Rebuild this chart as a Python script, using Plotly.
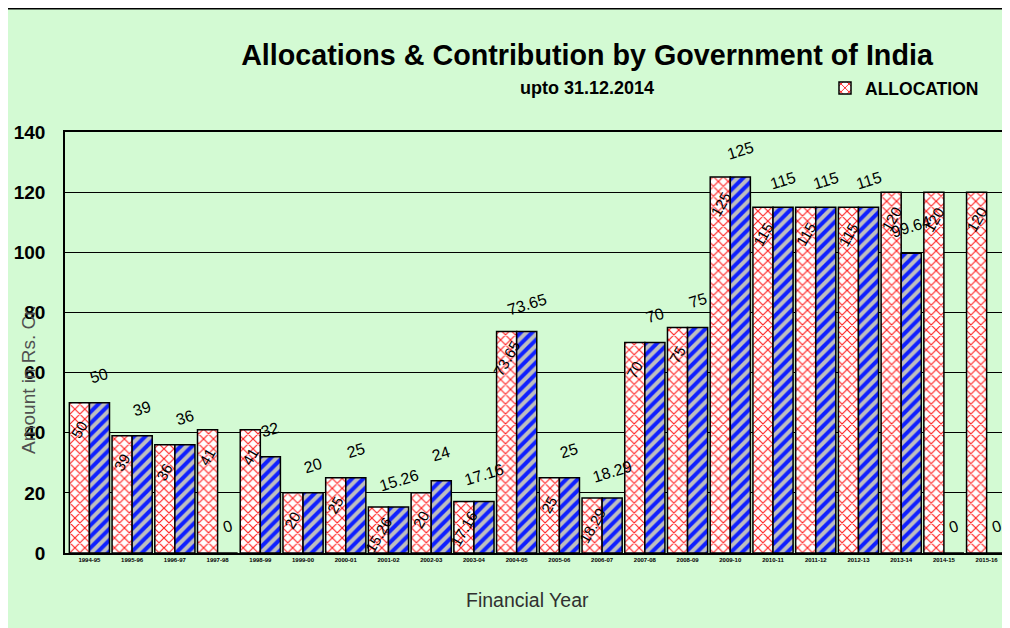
import plotly.graph_objects as go

categories = ["1994-95", "1995-96", "1996-97", "1997-98", "1998-99", "1999-00",
              "2000-01", "2001-02", "2002-03", "2003-04", "2004-05", "2005-06",
              "2006-07", "2007-08", "2008-09", "2009-10", "2010-11", "2011-12",
              "2012-13", "2013-14", "2014-15", "2015-16"]
allocation = [50, 39, 36, 41, 41, 20, 25, 15.26, 20, 17.16, 73.65, 25, 18.29,
              70, 75, 125, 115, 115, 115, 120, 120, 120]
contribution = [50, 39, 36, 0, 32, 20, 25, 15.26, 24, 17.16, 73.65, 25, 18.29,
                70, 75, 125, 115, 115, 115, 99.64, 0, 0]
y_ticks = [0, 20, 40, 60, 80, 100, 120, 140]

FONT = "Liberation Sans, Arial, sans-serif"
GREEN = "#D3FAD3"

# page has an 8px body margin; screen coords -> figure coords
OFF = 8
W, H = 1010, 628
L, R, T, B = 57, 10, 124, 83
pw, ph = W - L - R, H - T - B


def px(sx):
    return (sx - OFF - L) / pw


def py(sy):
    return (H - B - (sy - OFF)) / ph


fig = go.Figure()
fig.add_trace(go.Bar(
    x=categories, y=allocation, name="ALLOCATION",
    marker=dict(color="white", line=dict(color="black", width=1.5),
                pattern=dict(shape="x", fgcolor="#FF2020", bgcolor="white",
                             size=7, solidity=0.3, fgopacity=1)),
))
fig.add_trace(go.Bar(
    x=categories, y=contribution, name="CONTRIBUTION", showlegend=False,
    marker=dict(color="#C0C0C0", line=dict(color="black", width=1.5),
                pattern=dict(shape="/", fgcolor="#1020FF", bgcolor="#BEBEBE",
                             size=8, solidity=0.5, fgopacity=1)),
))

cat_w = pw / len(categories)
half = cat_w * (1 - 0.06) / 4
annotations = []
for c, a, k in zip(categories, allocation, contribution):
    annotations.append(dict(x=c, y=a, xref="x", yref="y", text=f"{a:g}",
                            showarrow=False, textangle=-60, xshift=-half,
                            yshift=-27, font=dict(family=FONT, size=15, color="black")))
    annotations.append(dict(x=c, y=k, xref="x", yref="y", text=f"{k:g}",
                            showarrow=False, textangle=-17, xshift=half,
                            yshift=27, font=dict(family=FONT, size=16, color="black")))

annotations += [
    dict(text="<b>upto 31.12.2014</b>", x=px(587), y=py(88), xref="paper", yref="paper",
         showarrow=False, xanchor="center", yanchor="middle",
         font=dict(family=FONT, size=18, color="black")),
    dict(text="Amount in Rs. Cr.", x=px(28), y=py(380), xref="paper", yref="paper",
         showarrow=False, textangle=-90, xanchor="center", yanchor="middle",
         font=dict(family=FONT, size=19, color="#505050")),
    dict(text="Financial Year", x=px(527), y=py(600), xref="paper", yref="paper",
         showarrow=False, xanchor="center", yanchor="middle",
         font=dict(family=FONT, size=19.5, color="#303030")),
]

shapes = [
    dict(type="line", xref="paper", yref="paper", x0=px(0), x1=px(W + 20),
         y0=py(OFF + 0.5), y1=py(OFF + 0.5), line=dict(color="black", width=2)),
]

fig.update_layout(
    width=W, height=H,
    margin=dict(l=L, r=R, t=T, b=B, pad=0, autoexpand=False),
    paper_bgcolor=GREEN, plot_bgcolor=GREEN,
    barmode="group", bargap=0.06, bargroupgap=0,
    font=dict(family=FONT, color="black"),
    title=dict(text="<b>Allocations &amp; Contribution by Government of India</b>",
               x=(587 - OFF) / W, y=1 - (55 - OFF) / H, xanchor="center", yanchor="middle",
               font=dict(family=FONT, size=28.7, color="black")),
    legend=dict(x=px(825), y=py(88), xanchor="left", yanchor="middle",
                bgcolor="rgba(0,0,0,0)",
                font=dict(family=FONT, size=17.5, color="black", weight="bold"),
                itemclick=False),
    annotations=annotations,
    shapes=shapes,
    xaxis=dict(type="category", showline=True, linecolor="black", linewidth=1.5,
               mirror=True, showgrid=False, ticks="", automargin=False,
               tickfont=dict(family=FONT, size=6, color="black", weight="bold")),
    yaxis=dict(range=[0, 140], tickvals=y_ticks, showgrid=True, gridcolor="black",
               gridwidth=1, showline=True, linecolor="black", linewidth=1.5,
               mirror=True, zeroline=False, ticks="", ticklabelstandoff=14,
               automargin=False,
               tickfont=dict(family=FONT, size=19, color="black", weight="bold")),
)

fig.write_html("out.html")
